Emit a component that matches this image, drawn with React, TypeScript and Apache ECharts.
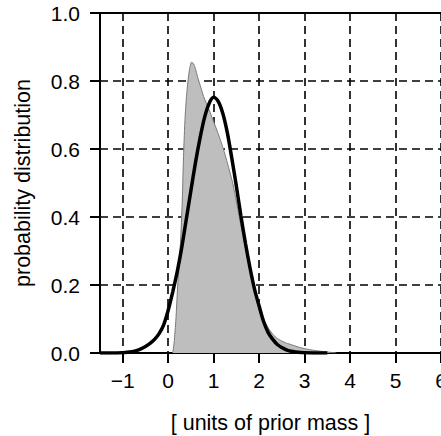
import React, { useEffect, useRef } from "react";
import * as echarts from "echarts";

// Tick values
const xTickValues = [-1, 0, 1, 2, 3, 4, 5, 6];
const yTickValues = [0, 0.2, 0.4, 0.6, 0.8, 1.0];

// Grey (shaded) distribution
const greyX = [0.10, 0.13, 0.17, 0.21, 0.25, 0.28, 0.31, 0.34, 0.37, 0.40, 0.43, 0.47, 0.51, 0.55, 0.59, 0.65, 0.72, 0.78, 0.90, 1.00, 1.10, 1.22, 1.32, 1.42, 1.50, 1.59, 1.70, 1.80, 1.90, 2.00, 2.10, 2.20, 2.30, 2.40, 2.50, 2.60, 2.72, 2.90, 3.10, 3.30, 3.50, 3.70];
const greyY = [0.000, 0.030, 0.100, 0.200, 0.280, 0.350, 0.450, 0.590, 0.690, 0.750, 0.795, 0.835, 0.855, 0.852, 0.840, 0.810, 0.780, 0.754, 0.715, 0.680, 0.645, 0.597, 0.550, 0.499, 0.445, 0.381, 0.310, 0.245, 0.185, 0.140, 0.100, 0.074, 0.055, 0.043, 0.035, 0.029, 0.024, 0.016, 0.010, 0.006, 0.003, 0.000];

// Black curve (prior)
const curveX = [-1.5, -1.2, -1.0, -0.9, -0.8, -0.7, -0.6, -0.5, -0.4, -0.3, -0.2, -0.1, 0.0, 0.1, 0.2, 0.3, 0.4, 0.5, 0.6, 0.7, 0.8, 0.9, 1.0, 1.1, 1.2, 1.3, 1.4, 1.5, 1.6, 1.7, 1.8, 1.9, 2.0, 2.1, 2.2, 2.3, 2.4, 2.5, 2.6, 2.7, 2.8, 3.0, 3.5];
const curveY = [0.000, 0.000, 0.001, 0.002, 0.004, 0.007, 0.012, 0.019, 0.028, 0.040, 0.057, 0.083, 0.126, 0.180, 0.240, 0.312, 0.395, 0.478, 0.560, 0.632, 0.693, 0.734, 0.752, 0.740, 0.705, 0.648, 0.572, 0.490, 0.403, 0.322, 0.250, 0.187, 0.138, 0.092, 0.060, 0.040, 0.025, 0.016, 0.009, 0.005, 0.003, 0.001, 0.000];

const xTitle = "[ units of prior mass ]";
const yTitle = "probability distribution";

const FONT = "Liberation Sans, Arial, Helvetica, sans-serif";

export default function App() {
  const ref = useRef<HTMLDivElement>(null);
  useEffect(() => {
    if (!ref.current) return;
    const chart = echarts.init(ref.current, null, { renderer: "svg" });
    const greyData = greyX.map((x, i) => [x, greyY[i]]);
    const curveData = curveX.map((x, i) => [x, curveY[i]]);
    const gridLine = { show: true, lineStyle: { color: "#000", width: 1.6, type: [8, 5] as any } };
    chart.setOption({
      animation: false,
      backgroundColor: "#fff",
      grid: { left: 100, top: 13, right: 0, bottom: 83, outerBoundsMode: "none" } as any,
      xAxis: [
        {
          type: "value",
          min: -1.5,
          max: 6,
          position: "bottom",
          axisLine: { show: true, onZero: false, lineStyle: { color: "#000", width: 2 } },
          axisTick: { show: true, inside: false, length: 10, customValues: xTickValues, lineStyle: { color: "#000", width: 2 } },
          axisLabel: {
            customValues: xTickValues,
            color: "#000",
            fontSize: 21,
            fontFamily: FONT,
            margin: 17,
            formatter: (v: number) => (v < 0 ? "\u2212" + Math.abs(v) : String(v)),
          },
          splitLine: gridLine,
          name: xTitle,
          nameLocation: "middle",
          nameGap: 59,
          nameTextStyle: { color: "#000", fontSize: 21.5, fontFamily: FONT },
        },
        {
          type: "value",
          min: -1.5,
          max: 6,
          position: "top",
          axisLine: { show: true, onZero: false, lineStyle: { color: "#000", width: 2 } },
          axisTick: { show: false },
          axisLabel: { show: false },
          splitLine: { show: false },
        },
      ],
      yAxis: {
        type: "value",
        min: 0,
        max: 1,
        interval: 0.2,
        axisLine: { show: true, onZero: false, lineStyle: { color: "#000", width: 2 } },
        axisTick: { show: true, inside: false, length: 10, lineStyle: { color: "#000", width: 2 } },
        axisLabel: {
          color: "#000",
          fontSize: 21,
          fontFamily: FONT,
          margin: 20,
          formatter: (v: number) => v.toFixed(1),
        },
        splitLine: gridLine,
        name: yTitle,
        nameLocation: "middle",
        nameGap: 66,
        nameTextStyle: { color: "#000", fontSize: 21.5, fontFamily: FONT },
      },
      series: [
        {
          type: "line",
          data: greyData,
          showSymbol: false,
          symbol: "none",
          smooth: 0.2,
          lineStyle: { color: "#7a7a7a", width: 1 },
          areaStyle: { color: "#bebebe", opacity: 1 },
          z: 2,
        },
        {
          type: "line",
          data: curveData,
          showSymbol: false,
          symbol: "none",
          smooth: 0.3,
          lineStyle: { color: "#000", width: 3.5 },
          z: 3,
        },
      ],
    });
    return () => chart.dispose();
  }, []);
  return (
    <div
      ref={ref}
      style={{ position: "absolute", left: 0, top: 0, width: 441, height: 436 }}
    />
  );
}
